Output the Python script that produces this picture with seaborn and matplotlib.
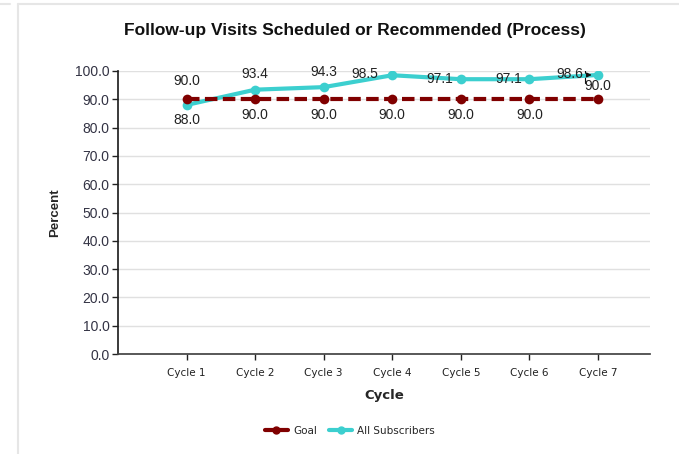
import matplotlib
matplotlib.use("Agg")
import matplotlib.pyplot as plt
import seaborn as sns
import pandas as pd
from matplotlib.lines import Line2D

cycles = ["Cycle 1", "Cycle 2", "Cycle 3", "Cycle 4", "Cycle 5", "Cycle 6", "Cycle 7"]
goal = [90.0, 90.0, 90.0, 90.0, 90.0, 90.0, 90.0]
subscribers = [88.0, 93.4, 94.3, 98.5, 97.1, 97.1, 98.6]
y_ticks = [0, 10, 20, 30, 40, 50, 60, 70, 80, 90, 100]

goal_color = "#800000"
sub_color = "#3CCFCF"

sns.set_theme(style="white")
plt.rcParams['font.family'] = ['Liberation Sans', 'DejaVu Sans']

fig = plt.figure(figsize=(6.79, 4.54), dpi=100)
ax = fig.add_axes([118/679, 1-354/454, (650-118)/679, (354-71)/454])

x = list(range(len(cycles)))
df = pd.DataFrame({"x": x + x,
                   "value": goal + subscribers,
                   "series": ["Goal"] * len(cycles) + ["All Subscribers"] * len(cycles)})

sns.lineplot(data=df[df.series == "All Subscribers"], x="x", y="value", ax=ax,
             color=sub_color, lw=3, marker="o", markersize=7, markeredgewidth=0, zorder=3)
sns.lineplot(data=df[df.series == "Goal"], x="x", y="value", ax=ax,
             color=goal_color, lw=3, marker="o", markersize=7, markeredgewidth=0,
             linestyle=(0, (3, 1.3)), zorder=4)

ax.set_xlim(-1.0, 6.76)
ax.set_ylim(0, 100)
ax.set_yticks(y_ticks)
ax.set_yticklabels([f"{v:.1f}" for v in y_ticks], fontsize=10, color="#333344")
ax.set_xticks(x)
ax.set_xticklabels(cycles, fontsize=7.5, family="DejaVu Sans", color="#222222")
ax.yaxis.grid(True, color="#E0E0E0", lw=1)
ax.set_axisbelow(True)
for s in ["top", "right"]:
    ax.spines[s].set_visible(False)
ax.spines["left"].set_color("#222222")
ax.spines["bottom"].set_color("#444444")
ax.tick_params(axis="both", length=4, width=1, color="#222222", left=True, bottom=True, pad=2)
ax.tick_params(axis="x", pad=6)

ax.set_xlabel("Cycle", fontsize=9.5, fontweight="bold", family="DejaVu Sans", labelpad=8)
ax.set_ylabel("Percent", fontsize=9.5, fontweight="bold", labelpad=10)

fig.text(355/679, 1-30/454, "Follow-up Visits Scheduled or Recommended (Process)",
         ha="center", va="center", fontsize=12.5, fontweight="bold", family="Liberation Sans",
         color="#111111")

# data labels
lab_kw = dict(fontsize=10, color="#222222", ha="center")
for i, v in enumerate(goal):
    if i == 0:
        ax.annotate(f"{v:.1f}", (i, v), xytext=(0, 8), textcoords="offset points", va="bottom", **lab_kw)
    elif i == 6:
        ax.annotate(f"{v:.1f}", (i, v), xytext=(0, 9.5), textcoords="offset points", va="center", **lab_kw)
    else:
        ax.annotate(f"{v:.1f}", (i, v), xytext=(0, -6), textcoords="offset points", va="top", **lab_kw)
for i, v in enumerate(subscribers):
    if i == 0:
        ax.annotate(f"{v:.1f}", (i, v), xytext=(0, -6), textcoords="offset points", va="top", **lab_kw)
    elif i in (1, 2):
        ax.annotate(f"{v:.1f}", (i, v), xytext=(0, 6), textcoords="offset points", va="bottom", **lab_kw)
    elif i == 6:
        ax.annotate(f"{v:.1f}", (i, v), xytext=(-20, 1), textcoords="offset points", va="center",
                    **lab_kw)
        ax.annotate("", (i - 0.05, v), xytext=(i - 0.19, v), textcoords="data",
                    arrowprops=dict(arrowstyle="-|>", color="#111111", lw=0.8, mutation_scale=7))
        ax.plot([i - 0.19, i - 0.19], [v - 2.8, v + 2.8], color="#111111", lw=0.8)
    elif i == 3:
        ax.annotate(f"{v:.1f}", (i, v), xytext=(-20, 1), textcoords="offset points", va="center", **lab_kw)
    else:
        ax.annotate(f"{v:.1f}", (i, v), xytext=(-15, 0), textcoords="offset points", va="center", **lab_kw)

handles = [Line2D([0], [0], color=goal_color, lw=3, marker="o", markersize=5),
           Line2D([0], [0], color=sub_color, lw=3, marker="o", markersize=5)]
fig.legend(handles, ["Goal", "All Subscribers"], loc="center", bbox_to_anchor=(350/679, 1-431/454),
           ncol=2, frameon=False, prop={"family": "DejaVu Sans", "size": 7.5},
           handlelength=2.2, columnspacing=1.2, handletextpad=0.5)

# panel border lines
fig.add_artist(Line2D([0, 10/679], [1-4/454, 1-4/454], color="#E6E6E6", lw=1.5, transform=fig.transFigure))
fig.add_artist(Line2D([18/679, 1], [1-4/454, 1-4/454], color="#E6E6E6", lw=1.5, transform=fig.transFigure))
fig.add_artist(Line2D([18/679, 18/679], [0, 1-4/454], color="#E6E6E6", lw=1.5, transform=fig.transFigure))

fig.savefig("out.png", dpi=100)
